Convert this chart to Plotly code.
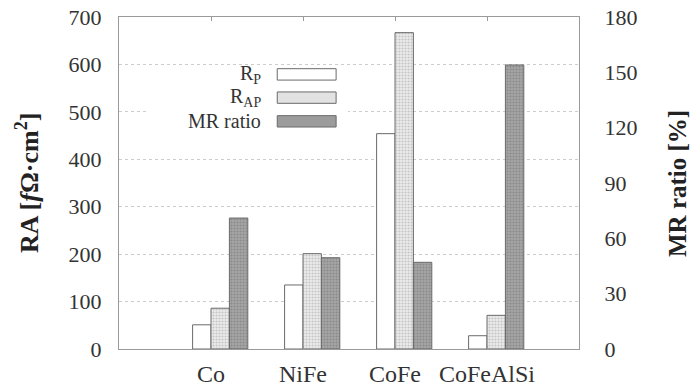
import plotly.graph_objects as go

categories = ["Co", "NiFe", "CoFe", "CoFeAlSi"]
ra_p = [51, 135, 454, 28]
ra_ap = [86, 201, 667, 71]
mr_ratio = [71, 49.5, 47, 154]
left_ticks = [0, 100, 200, 300, 400, 500, 600, 700]
right_ticks = [0, 30, 60, 90, 120, 150, 180]

xpos = list(range(1, len(categories) + 1))
FONT = "Liberation Serif, Times New Roman, serif"
EDGE = "#6a6a6a"

fig = go.Figure()
fig.add_trace(go.Bar(x=xpos, y=ra_p, width=0.2, offset=-0.2, name="R<sub>P</sub>",
                     marker=dict(color="white", line=dict(color=EDGE, width=1))))
fig.add_trace(go.Bar(x=xpos, y=ra_ap, width=0.2, offset=0.0, name="R<sub>AP</sub>",
                     marker=dict(color="#e4e4e4", line=dict(color=EDGE, width=1),
                                 pattern=dict(shape=".", size=3, solidity=0.4,
                                              fgcolor="#c4c4c4", bgcolor="#ececec", fillmode="replace"))))
fig.add_trace(go.Bar(x=xpos, y=mr_ratio, width=0.2, offset=0.2, name="MR ratio", yaxis="y2",
                     marker=dict(color="#9a9a9a", line=dict(color=EDGE, width=1),
                                 pattern=dict(shape=".", size=3, solidity=0.4,
                                              fgcolor="#8a8a8a", bgcolor="#a6a6a6", fillmode="replace"))))

axis_line = dict(showline=True, linecolor="#9a9a9a", linewidth=1, automargin=False)
fig.update_layout(
    width=692, height=391,
    margin=dict(l=119, r=113, t=17, b=42),
    paper_bgcolor="white", plot_bgcolor="white",
    barmode="overlay", showlegend=False,
    font=dict(family=FONT, size=22, color="#333333"),
    xaxis=dict(range=[0, 5], tickvals=xpos, ticktext=categories, showgrid=False,
               ticks="inside", ticklen=4, tickcolor="#9a9a9a", mirror="ticks",
               tickfont=dict(size=24), ticklabelstandoff=3, zeroline=False, **axis_line),
    yaxis=dict(range=[0, 700], tickvals=left_ticks, showgrid=True, gridcolor="#cccccc",
               griddash="dot", gridwidth=1, zeroline=False, ticks="", ticklabelstandoff=12,
               tickfont=dict(size=22), **axis_line),
    yaxis2=dict(range=[0, 180], tickvals=right_ticks, overlaying="y", side="right",
                showgrid=False, zeroline=False, ticks="", ticklabelstandoff=20,
                tickfont=dict(size=22), **axis_line),
)

annotations = [
    dict(x=-0.2, y=0.5, xref="paper", yref="paper", textangle=-90, showarrow=False,
         xanchor="center", yanchor="middle",
         text="<b>RA [<i>f</i>Ω·cm<sup>2</sup>]</b>", font=dict(size=26, color="#222222")),
    dict(x=1.213, y=0.5, xref="paper", yref="paper", textangle=-90, showarrow=False,
         xanchor="center", yanchor="middle",
         text="<b>MR ratio [%]</b>", font=dict(size=25, color="#222222")),
]

# custom legend (text to the left of swatches)
shapes = [dict(type="rect", xref="x", yref="y", x0=0.32, x1=2.49, y0=465, y1=598,
               fillcolor="white", line=dict(width=0), layer="between")]
swatch_fill = ["white", "#e2e2e2", "#9c9c9c"]
names = ["R<sub>P</sub>", "R<sub>AP</sub>", "MR ratio"]
ycent = [579, 530, 480]
for name, fc, yc in zip(names, swatch_fill, ycent):
    shapes.append(dict(type="rect", xref="x", yref="y", x0=1.72, x1=2.36, y0=yc - 12, y1=yc + 12,
                       fillcolor=fc, line=dict(color=EDGE, width=1), layer="above"))
    annotations.append(dict(x=1.57, y=yc, xref="x", yref="y", text=name, showarrow=False,
                            xanchor="right", yanchor="middle", font=dict(size=20, color="#333333")))
fig.update_layout(shapes=shapes, annotations=annotations)

fig.write_html("out.html")
